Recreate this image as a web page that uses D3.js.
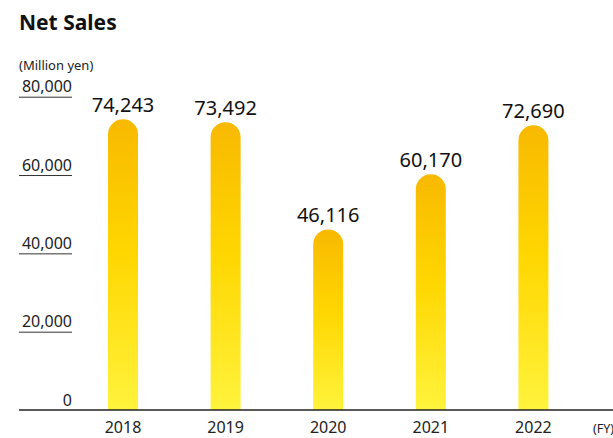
<!DOCTYPE html>
<html>
<head>
<meta charset="utf-8">
<script src="https://cdn.jsdelivr.net/npm/d3@7"></script>
<style>
  html, body { margin: 0; padding: 0; background: #fff; }
  svg { display: block; font-family: "Noto Sans", Lato, sans-serif; }
</style>
</head>
<body>
<svg id="chart" width="613" height="438"></svg>
<script>
// Net sales by fiscal year (million yen)
const years = ["2018", "2019", "2020", "2021", "2022"];
const sales = [74243, 73492, 46116, 60170, 72690];
const yTicks = [0, 20000, 40000, 60000, 80000];

const svg = d3.select("#chart");
const W = 613;
const baseY = 410;
const font = "'Noto Sans', Lato, sans-serif";

const x = d3.scaleBand()
  .domain(years)
  .range([56.7, 599.7])
  .paddingInner(0.7076)
  .paddingOuter(0.5);

const y = d3.scaleLinear()
  .domain([0, 80000])
  .range([baseY, 96.7]);

const fmt = d3.format(",");

// Vertical gradient applied to each bar's own box
const defs = svg.append("defs");
const grad = defs.append("linearGradient")
  .attr("id", "barGrad")
  .attr("x1", 0).attr("y1", 0).attr("x2", 0).attr("y2", 1);
grad.append("stop").attr("offset", "0%").attr("stop-color", "#F8B900");
grad.append("stop").attr("offset", "45%").attr("stop-color", "#FFD600");
grad.append("stop").attr("offset", "100%").attr("stop-color", "#FFF33C");

// Title and unit
svg.append("text")
  .attr("x", 19).attr("y", 30)
  .attr("font-size", 21).attr("font-weight", 700)
  .attr("fill", "#111")
  .text("Net Sales");

svg.append("text")
  .attr("x", 19).attr("y", 70)
  .attr("font-size", 13)
  .attr("fill", "#222")
  .text("(Million yen)");

// Y axis: labels sitting on short underlines
const yAxis = d3.axisLeft(y)
  .tickValues(yTicks)
  .tickFormat(d => d === 0 ? "0" : fmt(d))
  .tickSize(53);

const gy = svg.append("g")
  .attr("transform", "translate(72,0)")
  .call(yAxis);
gy.select(".domain").remove();
gy.selectAll(".tick line")
  .attr("stroke", "#333")
  .attr("stroke-width", 1)
  .attr("x1", -53).attr("x2", 0)
  .attr("display", d => d === 0 ? "none" : null);
gy.selectAll(".tick text")
  .attr("text-anchor", "end")
  .attr("x", 0)
  .attr("dy", "-0.3em")
  .attr("font-size", 16)
  .attr("font-family", font)
  .attr("fill", "#222");

// Bars with rounded tops
const bw = x.bandwidth();
function barPath(d, i) {
  const x0 = x(years[i]);
  const top = y(d);
  const r = bw / 2;
  const p = d3.path();
  p.moveTo(x0, baseY);
  p.lineTo(x0, top + r);
  p.arc(x0 + r, top + r, r, Math.PI, 0);
  p.lineTo(x0 + bw, baseY);
  p.closePath();
  return p.toString();
}

svg.append("g")
  .selectAll("path")
  .data(sales)
  .join("path")
  .attr("d", barPath)
  .attr("fill", "url(#barGrad)");

// Value labels
svg.append("g")
  .selectAll("text")
  .data(sales)
  .join("text")
  .attr("x", (d, i) => x(years[i]) + bw / 2)
  .attr("y", d => y(d) - 7.5)
  .attr("text-anchor", "middle")
  .attr("font-size", 20)
  .attr("fill", "#111")
  .text(d => fmt(d));

// Year axis and baseline
const xAxis = d3.axisBottom(x).tickSize(0).tickPadding(0);
const gx = svg.append("g")
  .attr("transform", `translate(0,${baseY})`)
  .call(xAxis);
gx.select(".domain").remove();
gx.selectAll(".tick text")
  .attr("dy", null)
  .attr("y", 23.3)
  .attr("font-size", 16)
  .attr("font-family", font)
  .attr("fill", "#222");

svg.append("line")
  .attr("x1", 19).attr("x2", W)
  .attr("y1", baseY).attr("y2", baseY)
  .attr("stroke", "#222").attr("stroke-width", 1.3);

svg.append("text")
  .attr("x", 593).attr("y", 433)
  .attr("font-size", 12.5)
  .attr("fill", "#222")
  .text("(FY)");
</script>
</body>
</html>
